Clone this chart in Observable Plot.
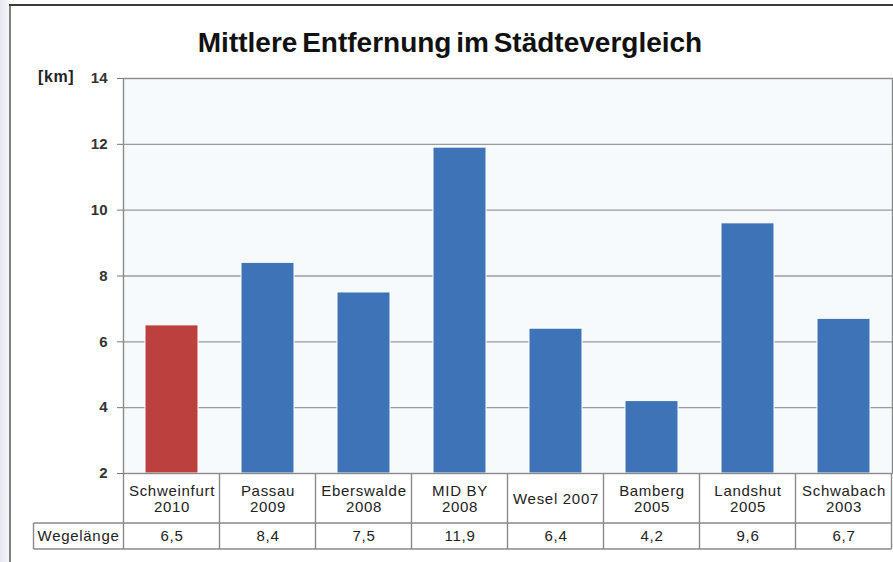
<!DOCTYPE html>
<html>
<head>
<meta charset="utf-8">
<script src="https://cdn.jsdelivr.net/npm/d3@7"></script>
<script src="https://cdn.jsdelivr.net/npm/@observablehq/plot@0.6"></script>
<style>
  html, body { margin: 0; padding: 0; background: #fff; }
  #wrap { position: relative; width: 893px; height: 562px; overflow: hidden; font-family: "Liberation Sans", Arial, sans-serif; }
  #shade { position: absolute; left: 0; top: 0; width: 9px; height: 562px; background: linear-gradient(to right, #e6e6ee, #f6f6fa); }
  #bl { position: absolute; left: 9px; top: 5px; width: 2px; height: 557px; background: #808080; }
  #bt { position: absolute; left: 9px; top: 4px; width: 884px; height: 2px; background: #3a3a3a; }
  #title { position: absolute; left: 0; top: 29px; width: 900px; text-align: center; font-weight: bold; font-size: 28px; line-height: 28px; color: #111; word-spacing: -3px; }
  #unit { position: absolute; left: 38px; top: 68px; font-weight: bold; font-size: 16px; line-height: 18px; letter-spacing: 0.6px; color: #222; }
  #chart { position: absolute; left: 0; top: 0; }
</style>
</head>
<body>
<div id="wrap">
  <div id="shade"></div>
  <div id="chart"></div>
  <div id="bl"></div>
  <div id="bt"></div>
  <div id="title"></div>
  <div id="unit"></div>
</div>
<script>
const titleText = "Mittlere Entfernung im Städtevergleich";
const unitLabel = "[km]";
const rowLabel = "Wegelänge";
const categories = ["Schweinfurt\n2010", "Passau\n2009", "Eberswalde\n2008", "MID BY\n2008", "Wesel 2007", "Bamberg\n2005", "Landshut\n2005", "Schwabach\n2003"];
const values = [6.5, 8.4, 7.5, 11.9, 6.4, 4.2, 9.6, 6.7];
const yTicks = [2, 4, 6, 8, 10, 12, 14];
const highlight = "Schweinfurt\n2010";

const red = "#bb403e", blue = "#3e73b8", gridColor = "#9a9a9a", lineColor = "#8a8a8a";
const fmt = v => String(v).replace(".", ",");
const data = categories.map((c, i) => ({cat: c, value: values[i], label: fmt(values[i])}));
const yMin = yTicks[0], yMax = yTicks[yTicks.length - 1];

document.getElementById("title").textContent = titleText;
document.getElementById("unit").textContent = unitLabel;

const chart = Plot.plot({
  width: 893, height: 562,
  marginTop: 78, marginBottom: 89, marginLeft: 123, marginRight: 1,
  style: {fontFamily: "'Liberation Sans', Arial, sans-serif", background: "transparent", overflow: "visible"},
  x: {domain: categories, paddingInner: 0.45, paddingOuter: 0.225, axis: null},
  y: {domain: [yMin, yMax], axis: null},
  marks: [
    Plot.frame({fill: "#f6fafd", stroke: null}),
    Plot.gridY(yTicks.slice(1, -1), {stroke: gridColor, strokeOpacity: 1, strokeWidth: 1.4}),
    Plot.barY(data, {x: "cat", y1: yMin, y2: "value", fill: d => d.cat === highlight ? red : blue, stroke: "white", strokeWidth: 1}),
    Plot.frame({stroke: lineColor, strokeWidth: 1.4}),
    Plot.axisY({ticks: yTicks, label: null, tickSize: 6, tickPadding: 10, fontWeight: "bold", fontSize: 15, fill: "#333", stroke: "#777", tickFormat: d => d}),
    Plot.text(data, {x: "cat", y: yMin, dy: 25, text: "cat", lineAnchor: "middle", lineHeight: 1.08, fontSize: 15, fill: "#222", className: "tbl"}),
    Plot.text(data, {x: "cat", y: yMin, dy: 63, text: "label", lineAnchor: "middle", fontSize: 15, fill: "#222", className: "tbl"}),
    Plot.text([rowLabel], {frameAnchor: "bottom-left", dx: -45, dy: 63, textAnchor: "middle", lineAnchor: "middle", text: d => d, fontSize: 15, fill: "#222", className: "tbl"})
  ]
});
document.getElementById("chart").appendChild(chart);
d3.select(chart).selectAll(".tbl text").style("letter-spacing", "0.7px");

// table grid built from the x/y scales
const sx = chart.scale("x"), sy = chart.scale("y");
const yBase = sy.apply(yMin);
const rowTop = yBase + 50, rowBottom = yBase + 76;
const edges = categories.map(c => sx.apply(c) + sx.bandwidth / 2 - sx.step / 2);
edges.push(sx.apply(categories[categories.length - 1]) + sx.bandwidth / 2 + sx.step / 2);
const labelLeft = edges[0] - 90;
const g = d3.select(chart).append("g").attr("stroke", lineColor).attr("stroke-width", 1.4);
edges.forEach(x => g.append("line").attr("x1", x).attr("x2", x).attr("y1", yBase).attr("y2", rowBottom));
g.append("line").attr("x1", labelLeft).attr("x2", labelLeft).attr("y1", rowTop).attr("y2", rowBottom);
[rowTop, rowBottom].forEach(y => g.append("line").attr("x1", labelLeft).attr("x2", edges[edges.length - 1]).attr("y1", y).attr("y2", y));
</script>
</body>
</html>
